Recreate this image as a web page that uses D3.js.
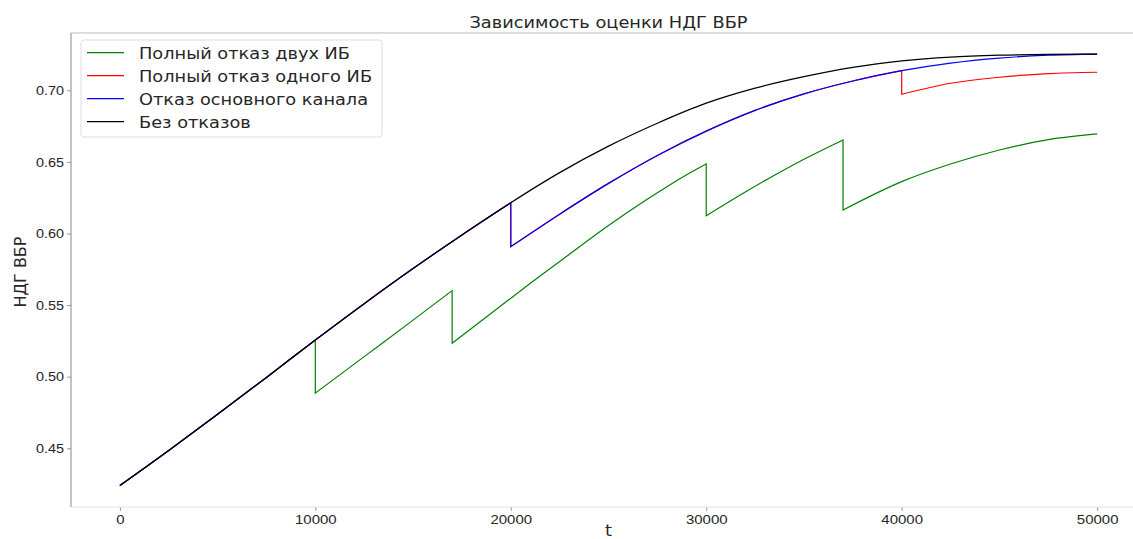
<!DOCTYPE html>
<html lang="ru">
<head>
<meta charset="UTF-8">
<title>НДГ ВБР</title>
<script src="https://cdn.jsdelivr.net/npm/d3@7"></script>
<style>
  body{margin:0;background:#fff;}
  svg{display:block;font-family:"DejaVu Sans",sans-serif;}
</style>
</head>
<body>
<div id="draw"></div>
<script>
// данные
var chartTitle = "Зависимость оценки НДГ ВБР";
var xLabel = "t";
var yLabel = "НДГ ВБР";
var seriesNames = ["Полный отказ двух ИБ", "Полный отказ одного ИБ", "Отказ основного канала", "Без отказов"];
var xTicks = [0, 10000, 20000, 30000, 40000, 50000];
var yTicks = [0.45, 0.50, 0.55, 0.60, 0.65, 0.70];

// без отказов
var baseT = [0, 2500, 5000, 7500, 10000, 12500, 15000, 17500, 20000, 22500, 25000,
             27500, 30000, 32500, 35000, 37500, 40000, 42500, 45000, 47500, 50000];
var baseV = [0.424, 0.4485, 0.4738, 0.4995, 0.5256, 0.551, 0.5755, 0.599, 0.6215, 0.6425, 0.661,
             0.677, 0.691, 0.7015, 0.7095, 0.716, 0.7205, 0.7232, 0.7245, 0.7251, 0.7253];
// отказ основного канала (с 20000)
var chanT = [20000, 22500, 25000, 27500, 30000, 32500, 35000, 37500, 40000, 42500, 45000, 47500, 50000];
var chanV = [0.5908, 0.6135, 0.635, 0.6545, 0.6715, 0.686, 0.6975, 0.7065, 0.7137, 0.719, 0.7225, 0.7245, 0.7253];
// полный отказ одного ИБ (с 40000)
var oneT = [40000, 42500, 45000, 47500, 50000];
var oneV = [0.6972, 0.7049, 0.7091, 0.7117, 0.7126];
// полный отказ двух ИБ (с 10000), повтор t = скачок вниз
var twoT = [10000, 12500, 15000, 17000, 17000, 19000, 21000, 23000, 25000, 27000, 29000, 30000,
            30000, 32000, 34000, 35000, 37000, 37000, 40000, 42500, 45000, 47500, 50000];
var twoV = [0.4885, 0.514, 0.5395, 0.5601, 0.5233, 0.5443, 0.5652, 0.5855, 0.6055, 0.624, 0.641, 0.6485,
            0.6124, 0.629, 0.6445, 0.6518, 0.6653, 0.6164, 0.6362, 0.6485, 0.6583, 0.6655, 0.6695];

var colors = ["#008000", "#ff0000", "#0000ff", "#000000"];

function zipPts(ts, vs){ return ts.map(function(t, i){ return [t, vs[i]]; }); }
// кусок предыдущей кривой до момента отказа + своя часть
function prefix(pts, tEnd){ return pts.filter(function(p){ return p[0] <= tEnd; }); }

var basePts = zipPts(baseT, baseV);
var chanPts = prefix(basePts, 20000).concat(zipPts(chanT, chanV));
var onePts = prefix(chanPts, 40000).concat(zipPts(oneT, oneV));
var twoPts = prefix(basePts, 10000).concat(zipPts(twoT, twoV));
var allSeries = [twoPts, onePts, chanPts, basePts];

var W = 1133, H = 539;
var mLeft = 71, mRight = 1146, mTop = 33, mBottom = 507;
var sx = 1.11; // картинка растянута по горизонтали

var x = d3.scaleLinear().domain([-2500, 52500]).range([mLeft, mRight]);
var y = d3.scaleLinear().domain([0.409, 0.740]).range([mBottom, mTop]);

var svg = d3.select("#draw").append("svg")
    .attr("width", W)
    .attr("height", H);

var line = d3.line()
    .x(function(d){ return x(d[0]); })
    .y(function(d){ return y(d[1]); })
    .curve(d3.curveMonotoneX);

// делим на непрерывные куски по повторяющимся t и соединяем вертикалями
function pathFor(pts){
    var pieces = [[pts[0]]];
    for(var i = 1; i < pts.length; i++){
        if(pts[i][0] === pts[i-1][0]) pieces.push([pts[i]]);
        else pieces[pieces.length-1].push(pts[i]);
    }
    return pieces.map(function(p, k){
        var d = line(p);
        return k === 0 ? d : "L" + d.slice(1);
    }).join("");
}

var plot = svg.append("g");
plot.selectAll("path")
    .data(allSeries)
    .enter()
    .append("path")
    .attr("d", pathFor)
    .attr("fill", "none")
    .attr("stroke", function(d, i){ return colors[i]; })
    .attr("stroke-width", 1.2);

// оси
var yAxis = svg.append("g")
    .attr("transform", "translate(" + mLeft + ",0)")
    .call(d3.axisLeft(y).tickValues(yTicks).tickFormat(d3.format(".2f")).tickSize(4).tickPadding(3));
var xAxis = svg.append("g")
    .attr("transform", "translate(0," + mBottom + ")")
    .call(d3.axisBottom(x).tickValues(xTicks).tickFormat(d3.format("d")).tickSize(4).tickPadding(3));
[xAxis, yAxis].forEach(function(a){
    a.select(".domain").remove();
    a.selectAll(".tick line").attr("stroke", "#999");
    a.selectAll(".tick text").attr("fill", "#262626").style("font-size", "13px");
});
xAxis.selectAll(".tick text").style("font-size", "13.5px").attr("transform", "scale(" + sx + ",1)");
yAxis.selectAll(".tick text").attr("x", 0).attr("transform", "translate(-7,0) scale(" + sx + ",1)");

// рамка
svg.append("line").attr("x1", mLeft).attr("x2", mLeft).attr("y1", mTop).attr("y2", mBottom)
    .attr("stroke", "#888").attr("stroke-width", 1);
svg.append("line").attr("x1", mLeft).attr("x2", mRight).attr("y1", mTop).attr("y2", mTop)
    .attr("stroke", "#bbb").attr("stroke-width", 1);
svg.append("line").attr("x1", mLeft).attr("x2", mRight).attr("y1", mBottom).attr("y2", mBottom)
    .attr("stroke", "#e2e2e2").attr("stroke-width", 1);

function label(tx, ty, str, size, rot){
    svg.append("text")
        .attr("transform", "translate(" + tx + "," + ty + ")" + (rot ? " rotate(-90)" : " scale(" + sx + ",1)"))
        .attr("text-anchor", "middle")
        .style("font-size", size + "px").attr("fill", "#262626")
        .text(str);
}
label((mLeft + mRight) / 2, 28, chartTitle, 16);
label((mLeft + mRight) / 2, 536, xLabel, 16);
label(26, 272, yLabel, 16, true);

// легенда
var lg = svg.append("g");
lg.append("rect")
    .attr("x", 81).attr("y", 40).attr("width", 301).attr("height", 97)
    .attr("rx", 3).attr("fill", "#fff").attr("stroke", "#ddd");
var items = lg.selectAll("g.item")
    .data(seriesNames)
    .enter()
    .append("g")
    .attr("class", "item")
    .attr("transform", function(d, i){ return "translate(0," + (52.7 + i * 23) + ")"; });
items.append("line")
    .attr("x1", 87).attr("x2", 124)
    .attr("stroke", function(d, i){ return colors[i]; })
    .attr("stroke-width", 1.2);
items.append("text")
    .attr("transform", "translate(139,6) scale(" + sx + ",1)")
    .style("font-size", "16px").attr("fill", "#262626")
    .text(function(d){ return d; });
</script>
</body>
</html>
